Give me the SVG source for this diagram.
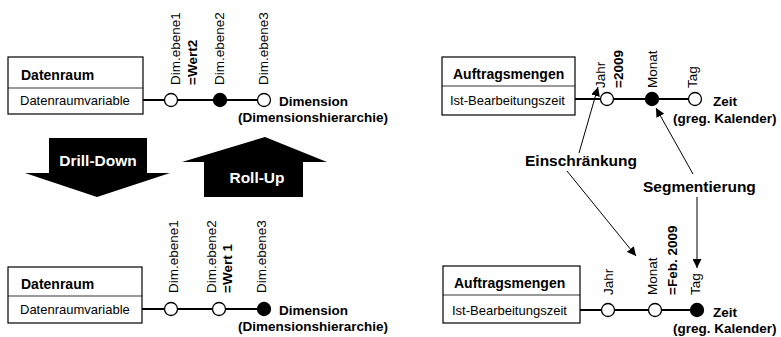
<svg xmlns="http://www.w3.org/2000/svg" width="781" height="337" viewBox="0 0 781 337">
  <defs>
    <marker id="arrow" viewBox="0 0 10 10" refX="10" refY="5" markerWidth="9" markerHeight="9" markerUnits="userSpaceOnUse" orient="auto">
      <path d="M0,0 L10,5 L0,10 z" fill="#000"/>
    </marker>
    <style>
      text { font-family: "Liberation Sans", Arial, sans-serif; fill: #000; }
      .box { fill: #fff; stroke: #000; stroke-width: 1.2; }
      .div { stroke: #000; stroke-width: 0.8; }
      .hdr { font-size: 14px; font-weight: bold; }
      .attr { font-size: 13px; }
      .axis { stroke: #000; stroke-width: 2; fill: none; }
      .lvl { fill: #fff; stroke: #000; stroke-width: 1.3; }
      .lvl.sel { fill: #000; }
      .lbl { font-size: 13.5px; }
      .val { font-size: 13.5px; font-weight: bold; }
      .dim { font-size: 13.5px; font-weight: bold; }
      .big { font-size: 15.5px; font-weight: bold; }
      .op { fill: #000; }
      .optext { font-size: 15.5px; font-weight: bold; fill: #fff; text-anchor: middle; }
      .ref { stroke: #000; stroke-width: 1; fill: none; marker-end: url(#arrow); }
    </style>
  </defs>
  <rect width="781" height="337" fill="#fff"/>

  <!-- Upper left: data space with dimension hierarchy, level 2 selected -->
  <g id="datenraum-oben">
    <line class="axis" x1="143" y1="100" x2="264" y2="100"/>
    <rect class="box" x="8" y="57" width="135" height="57"/>
    <line class="div" x1="8" y1="88" x2="143" y2="88"/>
    <text class="hdr" x="21" y="80">Datenraum</text>
    <text class="attr" x="20" y="105">Datenraumvariable</text>
    <circle class="lvl" cx="171" cy="100" r="6.5"/>
    <circle class="lvl sel" cx="220" cy="100" r="6.5"/>
    <circle class="lvl" cx="264" cy="100" r="6.5"/>
    <text class="lbl" transform="translate(180,85) rotate(-90)">Dim.ebene1</text>
    <text class="val" transform="translate(197,85) rotate(-90)">=Wert2</text>
    <text class="lbl" transform="translate(224,85) rotate(-90)">Dim.ebene2</text>
    <text class="lbl" transform="translate(268,85) rotate(-90)">Dim.ebene3</text>
    <text class="dim" x="279" y="106">Dimension</text>
    <text class="dim" x="238" y="122">(Dimensionshierarchie)</text>
  </g>

  <!-- Operations between the two states -->
  <g id="drill-down">
    <polygon class="op" points="49,138 147,138 147,173 170,173 97,197 25,173 49,173"/>
    <text class="optext" x="98" y="166">Drill-Down</text>
  </g>
  <g id="roll-up">
    <polygon class="op" points="265,137 327,162 303,162 303,197 204,197 204,162 182,162"/>
    <text class="optext" x="257" y="183">Roll-Up</text>
  </g>

  <!-- Lower left: data space, finest level selected -->
  <g id="datenraum-unten">
    <line class="axis" x1="142" y1="309" x2="264" y2="309"/>
    <rect class="box" x="8" y="267" width="134" height="56"/>
    <line class="div" x1="8" y1="296" x2="142" y2="296"/>
    <text class="hdr" x="21" y="289">Datenraum</text>
    <text class="attr" x="20" y="314">Datenraumvariable</text>
    <circle class="lvl" cx="171" cy="309" r="6.5"/>
    <circle class="lvl" cx="219" cy="309" r="6.5"/>
    <circle class="lvl sel" cx="264" cy="309" r="6.5"/>
    <text class="lbl" transform="translate(178,293) rotate(-90)">Dim.ebene1</text>
    <text class="lbl" transform="translate(216,293) rotate(-90)">Dim.ebene2</text>
    <text class="val" transform="translate(232,293) rotate(-90)">=Wert 1</text>
    <text class="lbl" transform="translate(266,293) rotate(-90)">Dim.ebene3</text>
    <text class="dim" x="279" y="315">Dimension</text>
    <text class="dim" x="238" y="331">(Dimensionshierarchie)</text>
  </g>

  <!-- Upper right: order quantities by month, restricted to 2009 -->
  <g id="auftragsmengen-oben">
    <line class="axis" x1="575" y1="99" x2="695" y2="99"/>
    <rect class="box" x="442" y="57" width="133" height="58"/>
    <line class="div" x1="442" y1="86" x2="575" y2="86"/>
    <text class="hdr" x="453" y="79">Auftragsmengen</text>
    <text class="attr" x="450" y="105">Ist-Bearbeitungszeit</text>
    <circle class="lvl" cx="607" cy="99" r="6.5"/>
    <circle class="lvl sel" cx="652" cy="99" r="6.5"/>
    <circle class="lvl" cx="695" cy="99" r="6.5"/>
    <text class="lbl" transform="translate(605,88) rotate(-90)">Jahr</text>
    <text class="val" transform="translate(623,88) rotate(-90)">=2009</text>
    <text class="lbl" transform="translate(657,88) rotate(-90)">Monat</text>
    <text class="lbl" transform="translate(697,88) rotate(-90)">Tag</text>
    <text class="dim" x="713" y="106">Zeit</text>
    <text class="dim" x="673" y="123">(greg. Kalender)</text>
  </g>

  <!-- Lower right: order quantities by day, restricted to Feb. 2009 -->
  <g id="auftragsmengen-unten">
    <line class="axis" x1="580" y1="310" x2="697" y2="310"/>
    <rect class="box" x="443" y="266" width="137" height="57"/>
    <line class="div" x1="443" y1="295" x2="580" y2="295"/>
    <text class="hdr" x="454" y="288">Auftragsmengen</text>
    <text class="attr" x="452" y="315">Ist-Bearbeitungszeit</text>
    <circle class="lvl" cx="608" cy="310" r="6.5"/>
    <circle class="lvl" cx="655" cy="310" r="6.5"/>
    <circle class="lvl sel" cx="697" cy="310" r="6.5"/>
    <text class="lbl" transform="translate(613,295) rotate(-90)">Jahr</text>
    <text class="lbl" transform="translate(657,295) rotate(-90)">Monat</text>
    <text class="val" transform="translate(677,295) rotate(-90)">=Feb. 2009</text>
    <text class="lbl" transform="translate(700,295) rotate(-90)">Tag</text>
    <text class="dim" x="713" y="317">Zeit</text>
    <text class="dim" x="673" y="333">(greg. Kalender)</text>
  </g>

  <!-- Annotation labels -->
  <g id="einschraenkung">
    <text class="big" x="525" y="166">Einschränkung</text>
  </g>
  <g id="segmentierung">
    <text class="big" x="643" y="192">Segmentierung</text>
  </g>

  <!-- Annotation arrows -->
  <g id="connectors">
    <line class="ref" x1="579" y1="153" x2="598" y2="87"/>
    <line class="ref" x1="567" y1="171" x2="636" y2="256"/>
    <line class="ref" x1="693" y1="174" x2="656" y2="108"/>
    <line class="ref" x1="697" y1="197" x2="697" y2="268"/>
  </g>
</svg>
